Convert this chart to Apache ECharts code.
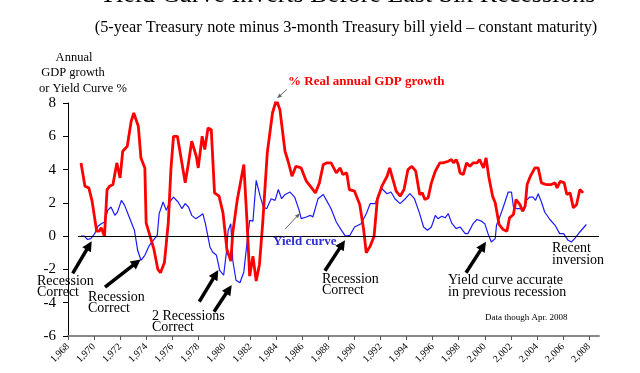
<!DOCTYPE html>
<html>
<head>
<meta charset="utf-8">
<script src="https://cdn.jsdelivr.net/npm/echarts@6/dist/echarts.min.js"></script>
<style>html,body{margin:0;padding:0;background:#fff}#c{width:640px;height:373px}</style>
</head>
<body>
<div id="c"></div>
<script>
// ---- data ----
const gdpYears = [1969.0,1969.3,1969.6,1969.85,1970.2,1970.4,1970.55,1970.8,1971.0,1971.2,1971.45,1971.75,1972.0,1972.2,1972.55,1972.85,1973.05,1973.4,1973.6,1973.9,1974.0,1974.3,1974.6,1974.9,1975.1,1975.4,1975.7,1975.9,1976.1,1976.4,1976.7,1977.0,1977.25,1977.5,1977.85,1978.0,1978.3,1978.5,1978.75,1979.0,1979.25,1979.6,1979.9,1980.0,1980.2,1980.5,1980.65,1981.0,1981.5,1981.75,1981.95,1982.2,1982.45,1982.7,1982.95,1983.3,1983.7,1984.0,1984.27,1984.66,1984.9,1985.2,1985.5,1985.9,1986.3,1986.6,1987.0,1987.3,1987.6,1987.85,1988.2,1988.6,1988.9,1989.1,1989.4,1989.6,1990.0,1990.4,1990.7,1990.9,1991.2,1991.5,1991.75,1992.1,1992.5,1992.7,1992.95,1993.2,1993.5,1993.8,1994.1,1994.4,1994.7,1995.0,1995.2,1995.4,1995.65,1995.9,1996.2,1996.55,1996.8,1997.2,1997.45,1997.6,1997.8,1997.96,1998.1,1998.35,1998.6,1998.85,1999.1,1999.4,1999.6,1999.9,2000.1,2000.3,2000.6,2000.8,2001.1,2001.4,2001.7,2001.9,2002.05,2002.2,2002.4,2002.7,2002.9,2003.1,2003.25,2003.5,2003.85,2004.1,2004.35,2004.7,2005.1,2005.4,2005.55,2005.8,2006.1,2006.3,2006.55,2006.8,2007.05,2007.3,2007.55];
const gdpValues = [4.4,3.0,2.9,2.1,0.3,0.3,0.5,0.0,2.8,3.0,3.1,4.4,3.5,5.1,5.4,6.9,7.4,6.6,4.7,4.1,0.8,0.0,-0.8,-2.0,-2.2,-1.6,0.8,4.0,6.0,6.0,4.6,3.2,4.4,5.7,4.8,4.1,6.0,5.2,6.5,6.4,2.6,2.4,1.4,1.3,-0.8,-1.5,0.2,2.2,4.3,0.8,-2.4,-1.2,-2.7,-1.7,0.8,5.0,7.4,8.2,7.6,5.1,4.5,3.6,4.2,4.1,3.3,3.0,2.6,3.2,4.3,4.4,4.4,3.8,4.1,3.7,3.8,2.8,2.7,1.9,0.4,-1.0,-0.6,0.0,2.2,3.0,3.6,4.1,3.4,2.7,2.4,2.8,4.0,4.2,3.9,2.5,2.6,2.2,2.3,3.2,3.9,4.4,4.4,4.5,4.6,4.4,4.6,4.3,3.8,3.7,4.4,4.2,4.4,4.4,4.6,4.1,4.7,3.6,2.4,2.0,0.7,0.4,0.3,1.1,1.2,1.3,2.2,1.9,1.5,1.8,3.1,3.6,4.1,4.1,3.2,3.1,3.1,3.2,2.9,3.3,3.2,2.5,2.6,1.7,1.9,2.8,2.6];

const ycYears = [1969.0,1969.25,1969.5,1969.75,1970.05,1970.3,1970.55,1970.8,1971.05,1971.3,1971.6,1971.8,1972.1,1972.35,1972.6,1972.85,1973.1,1973.35,1973.6,1973.9,1974.25,1974.65,1974.85,1975.0,1975.3,1975.55,1975.8,1976.1,1976.45,1976.75,1977.0,1977.25,1977.5,1977.8,1978.1,1978.35,1978.55,1978.9,1979.1,1979.4,1979.65,1979.95,1980.15,1980.3,1980.5,1980.65,1980.9,1981.2,1981.5,1981.75,1981.95,1982.2,1982.45,1982.75,1983.0,1983.25,1983.6,1983.9,1984.15,1984.4,1984.66,1985.05,1985.4,1985.75,1985.9,1986.3,1986.6,1986.8,1987.2,1987.6,1987.85,1988.2,1988.6,1989.0,1989.3,1989.65,1990.0,1990.5,1990.9,1991.2,1991.6,1991.8,1992.1,1992.5,1992.8,1993.1,1993.5,1993.9,1994.25,1994.6,1995.0,1995.3,1995.6,1995.9,1996.2,1996.4,1996.7,1996.95,1997.2,1997.45,1997.8,1998.1,1998.5,1998.7,1999.1,1999.4,1999.75,2000.0,2000.25,2000.5,2000.8,2000.9,2001.2,2001.55,2001.8,2002.05,2002.2,2002.5,2002.8,2003.0,2003.2,2003.45,2003.7,2003.9,2004.1,2004.35,2004.6,2005.0,2005.4,2005.75,2006.05,2006.4,2006.65,2006.9,2007.3,2007.8];
const ycValues = [0.0,0.0,-0.2,-0.15,0.15,0.6,0.75,0.85,1.55,1.75,1.25,1.45,2.15,1.85,1.35,0.85,0.35,-0.85,-1.45,-1.15,-0.55,-0.15,0.05,1.35,2.05,1.55,2.05,2.35,2.05,1.65,1.95,1.75,1.25,1.05,1.2,1.35,0.75,-0.65,-0.95,-1.15,-2.05,-2.35,-1.05,0.35,0.75,-1.45,-2.65,-2.8,-2.15,-0.35,0.95,0.9,3.35,2.4,1.75,1.65,2.25,2.15,2.8,2.25,2.5,2.65,2.35,1.55,1.05,1.15,1.25,1.15,2.25,2.5,2.15,1.65,0.85,0.35,0.0,0.05,0.55,0.75,1.35,1.95,1.95,2.45,2.85,2.55,2.65,2.25,1.95,2.25,2.55,2.25,1.35,0.55,0.35,0.55,1.25,1.05,1.2,1.1,1.35,0.8,0.45,0.55,0.15,0.15,0.75,1.0,0.9,0.75,0.15,-0.35,-0.15,0.65,1.25,2.05,2.65,2.65,1.75,1.65,1.65,1.5,2.15,2.35,2.35,2.15,2.55,2.05,1.45,1.0,0.65,0.15,0.15,-0.25,-0.35,-0.15,0.25,0.7];

const xTickYears = [1968,1970,1972,1974,1976,1978,1980,1982,1984,1986,1988,1990,1992,1994,1996,1998,2000,2002,2004,2006,2008];
const yTicks = [-6,-4,-2,0,2,4,6,8];

// annotation anchors in data coordinates [from, to]
const blackArrows = [
  [[1968.36,-2.24],[1969.82,-0.30]],
  [[1970.84,-3.06],[1973.58,-1.40]],
  [[1978.08,-3.94],[1979.54,-2.04]],
  [[1979.21,-4.54],[1980.57,-2.94]],
  [[1987.73,-2.08],[1989.27,-0.24]],
  [[1998.56,-2.20],[2000.09,-0.34]]
];
const grayArrows = [
  [[1984.81,8.82],[1984.05,8.28]],
  [[1984.66,0.42],[1985.81,1.38]]
];

const pair = (xs, ys) => xs.map((x, i) => [x, ys[i]]);
const SERIF = '"Liberation Serif","Times New Roman",serif';

const chart = echarts.init(document.getElementById('c'), null, {renderer: 'canvas'});
chart.setOption({
  animation: false,
  backgroundColor: '#fff',
  grid: {left: 68, right: 41, top: 103, bottom: 37, outerBoundsMode: 'none'},
  xAxis: {
    type: 'value', min: 1968, max: 2008.77, interval: 2,
    axisLine: {onZero: false, lineStyle: {color: '#888', width: 2}},
    axisTick: {show: true, length: 4, customValues: xTickYears, lineStyle: {color: '#555', width: 1}},
    axisLabel: {customValues: xTickYears, rotate: 45, margin: 9, fontFamily: SERIF, fontSize: 10, color: '#000'},
    splitLine: {show: false}
  },
  yAxis: {
    type: 'value', min: -6, max: 8, interval: 2,
    axisLine: {show: true, onZero: false, lineStyle: {color: '#000', width: 1}},
    axisTick: {show: true, length: 5, lineStyle: {color: '#000'}},
    axisLabel: {margin: 12, fontFamily: SERIF, fontSize: 15, color: '#000'},
    splitLine: {show: false}
  },
  series: [
    {
      name: 'Yield curve', type: 'line', data: pair(ycYears, ycValues),
      showSymbol: false, symbol: 'none', lineStyle: {color: '#1a1aff', width: 1.2}, z: 3,
      markLine: {
        silent: true, symbol: ['none', 'none'], label: {show: false},
        lineStyle: {color: '#000', width: 1, type: 'solid'},
        data: [[{coord: [1968.77, 0]}, {coord: [2008.77, 0]}]]
      }
    },
    {
      name: '% Real annual GDP growth', type: 'line', data: pair(gdpYears, gdpValues),
      showSymbol: false, symbol: 'none', lineStyle: {color: '#ff0000', width: 2.8}, z: 4
    }
  ]
});

function px(p) { return chart.convertToPixel({xAxisIndex: 0, yAxisIndex: 0}, p); }
function arrow(from, to, color, width, headLen, headW) {
  const a = px(from), b = px(to);
  const dx = b[0] - a[0], dy = b[1] - a[1], L = Math.hypot(dx, dy), ux = dx / L, uy = dy / L;
  const bx = b[0] - ux * headLen, by = b[1] - uy * headLen;
  return [
    {type: 'line', z: 50, shape: {x1: a[0], y1: a[1], x2: bx + ux, y2: by + uy}, style: {stroke: color, lineWidth: width}},
    {type: 'polygon', z: 50, shape: {points: [[b[0], b[1]], [bx - uy * headW / 2, by + ux * headW / 2], [bx + uy * headW / 2, by - ux * headW / 2]]}, style: {fill: color}}
  ];
}
function txt(text, x, y, size, color, weight, align) {
  return {type: 'text', z: 60, style: {text: text, x: x, y: y, fill: color || '#000',
    font: (weight || 'normal') + ' ' + size + 'px ' + SERIF, align: align || 'left', verticalAlign: 'middle'}};
}

const g = [];
blackArrows.forEach(a => g.push(...arrow(a[0], a[1], '#000', 3.5, 10, 10)));
grayArrows.forEach(a => g.push(...arrow(a[0], a[1], '#666', 1, 5, 4)));
g.push(
  txt('Yield Curve Inverts Before Last Six Recessions', 347, -4.5, 26, '#000', 'normal', 'center'),
  txt('(5-year Treasury note minus 3-month Treasury bill yield \u2013 constant maturity)', 346, 28, 16.3, '#000', 'normal', 'center'),
  txt('Annual', 74, 57.5, 12.5, '#000', 'normal', 'center'),
  txt('GDP growth', 73, 72.5, 12.5, '#000', 'normal', 'center'),
  txt('or Yield Curve %', 39, 89, 12.5, '#000', 'normal', 'left'),
  txt('% Real annual GDP growth', 288, 81.5, 13, '#ff0000', 'bold'),
  txt('Yield curve', 273, 241.5, 13, '#2e2ed6', 'bold'),
  txt('Recession', 37, 281.5, 14), txt('Correct', 37, 292.5, 14),
  txt('Recession', 88, 297, 14), txt('Correct', 88, 308.5, 14),
  txt('2 Recessions', 152, 316, 14), txt('Correct', 152, 327, 14),
  txt('Recession', 322, 279.5, 14), txt('Correct', 322, 290.5, 14),
  txt('Yield curve accurate', 448, 280.5, 14), txt('in previous recession', 448, 292, 14),
  txt('Recent', 552, 248.5, 14), txt('inversion', 552, 260, 14),
  txt('Data though Apr. 2008', 485, 318, 9)
);
chart.setOption({graphic: {elements: g}});
</script>
</body>
</html>
